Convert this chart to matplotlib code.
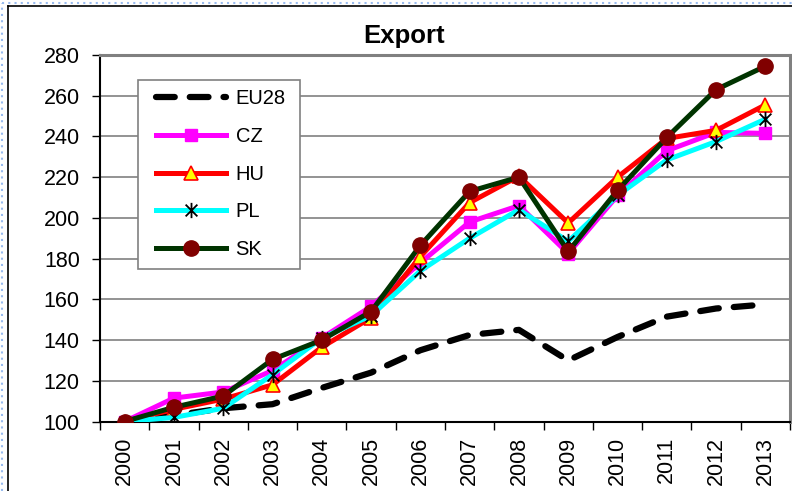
import matplotlib
matplotlib.use("Agg")
import matplotlib.pyplot as plt
from matplotlib.path import Path
from matplotlib.lines import Line2D
from matplotlib.patches import Rectangle
import numpy as np

plt.rcParams['font.family'] = ['Liberation Sans', 'DejaVu Sans']

years = ['2000', '2001', '2002', '2003', '2004', '2005', '2006',
         '2007', '2008', '2009', '2010', '2011', '2012', '2013']
eu28 = [100, 103, 106.5, 108.5, 116.5, 124, 135, 142.5, 145, 130, 141.5, 151.5, 155.5, 157.5]
cz = [100, 111.5, 114.5, 125, 141, 156.5, 178, 198, 206, 182.5, 211, 233, 242, 241.5]
hu = [100, 106, 111, 118, 136.5, 151, 181, 207.5, 220.5, 197.5, 220, 239, 243, 255.5]
pl = [100, 102, 106.5, 123, 141, 152, 174, 190, 204, 188.5, 211, 228.5, 237.5, 248.5]
sk = [100, 107, 112.5, 130.5, 140, 154, 186.5, 213, 220, 183.5, 213.5, 239.5, 263, 274.5]

W, H = 792, 491
fig = plt.figure(figsize=(W / 100, H / 100), dpi=100)
AX_L, AX_R, AX_T, AX_B = 100, 790, 55, 421.5
ax = fig.add_axes([AX_L / W, 1 - AX_B / H, (AX_R - AX_L) / W, (AX_B - AX_T) / H])

def ax_fx(px):
    return (px - AX_L) / (AX_R - AX_L)

def ax_fy(py):
    return (AX_B - py) / (AX_B - AX_T)

x = np.arange(len(years))

star = Path([(-1, -1), (1, 1), (-1, 1), (1, -1), (0, -1.3), (0, 1.3)],
            [Path.MOVETO, Path.LINETO, Path.MOVETO, Path.LINETO, Path.MOVETO, Path.LINETO])

ax.plot(x, eu28, color='black', lw=4.5, linestyle=(0, (3.0, 2.4)),
        dash_capstyle='round', solid_capstyle='round', label='EU28', zorder=3)
ax.plot(x, cz, color='#ff00ff', lw=3.6, marker='s', ms=9, mfc='#ff00ff', mec='#ff00ff',
        label='CZ', zorder=4)
ax.plot(x, hu, color='#ff0000', lw=3.6, marker='^', ms=10, mfc='#ffff00', mec='#ff0000',
        mew=1.2, label='HU', zorder=5)
ax.plot(x, pl, color='#00ffff', lw=3.6, marker=star, ms=11, mfc='none', mec='black',
        mew=1.3, label='PL', zorder=6)
ax.plot(x, sk, color='#003300', lw=3.6, marker='o', ms=11, mfc='#800000', mec='#800000',
        label='SK', zorder=7)

ax.set_xlim(-0.5, len(years) - 0.5)
ax.set_ylim(100, 280)
ax.set_yticks(np.arange(100, 281, 20))
ax.tick_params(axis='y', labelsize=15.5, direction='out', length=6, width=1, pad=8.5)
ax.set_xticks(np.arange(-0.5, len(years), 1))
ax.set_xticklabels([])
ax.set_xticks(x, minor=True)
ax.set_xticklabels(years, minor=True, rotation=90, fontsize=15.5)
ax.tick_params(axis='x', which='major', direction='out', length=5.5, width=1)
ax.tick_params(axis='x', which='minor', length=0, pad=11)

ax.grid(axis='y', color='#808080', lw=1.2, zorder=0)
for s in ['top', 'right']:
    ax.spines[s].set_color('#808080')
    ax.spines[s].set_linewidth(2.2)
for s in ['left', 'bottom']:
    ax.spines[s].set_color('black')
    ax.spines[s].set_linewidth(1.5)

fig.text(404 / W, 1 - 36 / H, 'Export', ha='center', va='center', fontsize=18.5, fontweight='bold')

# legend frame drawn separately
ax.add_patch(Rectangle((ax_fx(138), ax_fy(269)), ax_fx(300) - ax_fx(138), ax_fy(80) - ax_fy(269),
                       transform=ax.transAxes, facecolor='white', edgecolor='#808080', lw=1.2,
                       zorder=8))
leg = ax.legend(loc='upper left', bbox_to_anchor=(ax_fx(155.5), ax_fy(89.3)),
                fontsize=14.5, handlelength=3.5, labelspacing=0.93, borderpad=0,
                handletextpad=0.475, borderaxespad=0, frameon=False)
leg.set_zorder(9)

# outer chart border and selection dots
fig.add_artist(Line2D([8 / W, 8 / W], [0, 1 - 6 / H], transform=fig.transFigure, color='black', lw=1.2))
fig.add_artist(Line2D([8 / W, 1], [1 - 6 / H, 1 - 6 / H], transform=fig.transFigure, color='black', lw=1.2))
fig.add_artist(Line2D([2 / W, 2 / W], [0, 1 - 3 / H], transform=fig.transFigure, color='#99bbee',
                      lw=1.5, linestyle=(0, (1, 2))))
fig.add_artist(Line2D([2 / W, 1], [1 - 3 / H, 1 - 3 / H], transform=fig.transFigure, color='#99bbee',
                      lw=1.5, linestyle=(0, (1, 2))))

fig.savefig('out.png', dpi=100)
